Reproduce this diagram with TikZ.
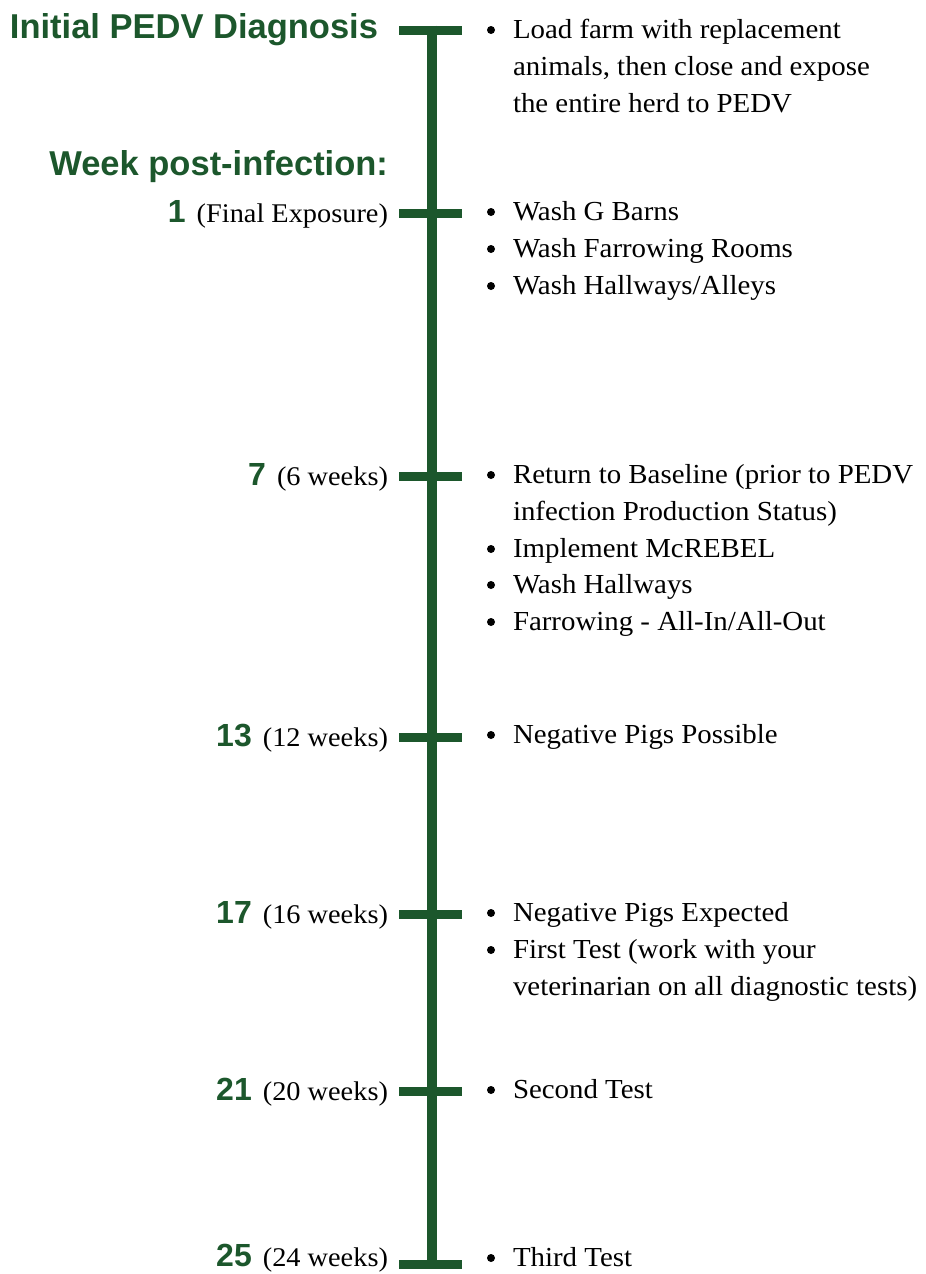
\documentclass[tikz,border=0pt]{standalone}
\usepackage{fontspec}
\setmainfont{Liberation Serif}[FakeStretch=1.05]
\newfontfamily\hsans{Liberation Sans}
\definecolor{pgreen}{RGB}{28,87,44}
\newcommand\bodyfont{\fontsize{27.5}{33}\selectfont}
\newcommand\labfont{\fontsize{27}{30}\selectfont}
\newcommand\headfont{\hsans\bfseries\fontsize{34.5}{40}\selectfont}
\newcommand\numfont{\hsans\bfseries\fontsize{32}{36}\selectfont}
\newcommand\wk[2]{{\color{pgreen}\numfont #1}\hspace{11pt}{\labfont #2}}
\begin{document}
\begin{tikzpicture}[x=1pt,y=-1pt,
  every node/.style={inner sep=0pt, outer sep=0pt},
  txt/.style={anchor=base west, font=\bodyfont, text=black},
  lab/.style={anchor=base east},
  head/.style={anchor=base east, font=\headfont, text=pgreen},
  bul/.style={circle, fill=black, minimum size=8pt},
  spine/.style={draw=pgreen, line width=10pt},
  tickbar/.style={draw=pgreen, line width=9pt}]
\useasboundingbox (0,0) rectangle (926,1274);

% timeline
\coordinate (top) at (432,25.5);
\coordinate (bot) at (432,1268.5);
\coordinate (t0) at (432,30);
\coordinate (t1) at (432,213);
\coordinate (t2) at (432,476);
\coordinate (t3) at (432,737);
\coordinate (t4) at (432,914);
\coordinate (t5) at (432,1091);
\coordinate (t6) at (432,1264);
\draw[spine] (top) -- (bot);
\foreach \t in {t0,t1,t2,t3,t4,t5,t6}
  \draw[tickbar] ([xshift=-33pt]\t) -- ([xshift=30pt]\t);

% headings
\node[head] (h0) at (378,38) {Initial PEDV Diagnosis};
\node[head] (h1) at (388,175) {Week post-infection:};

% left labels
\node[lab] (l1) at (388,222) {\wk{1}{(Final Exposure)}};
\node[lab] (l2) at (388,485) {\wk{7}{(6 weeks)}};
\node[lab] (l3) at (388,746) {\wk{13}{(12 weeks)}};
\node[lab] (l4) at (388,923) {\wk{17}{(16 weeks)}};
\node[lab] (l5) at (388,1100) {\wk{21}{(20 weeks)}};
\node[lab] (l6) at (388,1266) {\wk{25}{(24 weeks)}};

% right items
\node[bul] (b01) at (491,30) {};
\node[txt] (r01) at (513,38) {Load farm with replacement};
\node[txt] (r02) at (513,75) {animals, then close and expose};
\node[txt] (r03) at (513,112) {the entire herd to PEDV};

\node[bul] (b11) at (491,212) {};
\node[txt] (r11) at (513,220) {Wash G Barns};
\node[bul] (b12) at (491,249) {};
\node[txt] (r12) at (513,257) {Wash Farrowing Rooms};
\node[bul] (b13) at (491,286) {};
\node[txt] (r13) at (513,294) {Wash Hallways/Alleys};

\node[bul] (b21) at (491,475) {};
\node[txt] (r21) at (513,483) {Return to Baseline (prior to PEDV};
\node[txt] (r22) at (513,520) {infection Production Status)};
\node[bul] (b23) at (491,549) {};
\node[txt] (r23) at (513,557) {Implement McREBEL};
\node[bul] (b24) at (491,585) {};
\node[txt] (r24) at (513,593) {Wash Hallways};
\node[bul] (b25) at (491,622) {};
\node[txt] (r25) at (513,630) {Farrowing - All-In/All-Out};

\node[bul] (b31) at (491,735) {};
\node[txt] (r31) at (513,743) {Negative Pigs Possible};

\node[bul] (b41) at (491,913) {};
\node[txt] (r41) at (513,921) {Negative Pigs Expected};
\node[bul] (b42) at (491,950) {};
\node[txt] (r42) at (513,958) {First Test (work with your};
\node[txt] (r43) at (513,995) {veterinarian on all diagnostic tests)};

\node[bul] (b51) at (491,1090) {};
\node[txt] (r51) at (513,1098) {Second Test};

\node[bul] (b61) at (491,1258) {};
\node[txt] (r61) at (513,1266) {Third Test};
\end{tikzpicture}
\end{document}
